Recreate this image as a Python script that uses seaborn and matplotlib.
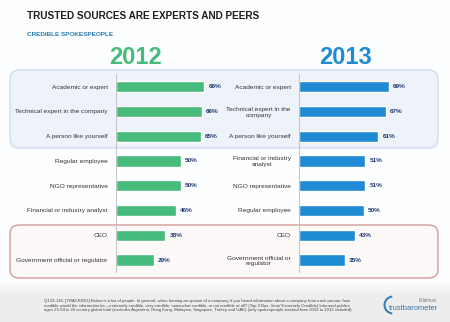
import numpy as np
import matplotlib
matplotlib.use("Agg")
import matplotlib.pyplot as plt
from matplotlib.patches import FancyBboxPatch, Arc
import seaborn as sns

# ---- data ----
cats_2012 = ["Academic or expert", "Technical expert in the company", "A person like yourself",
             "Regular employee", "NGO representative", "Financial or industry analyst",
             "CEO", "Government official or regulator"]
vals_2012 = [68, 66, 65, 50, 50, 46, 38, 29]
cats_2013 = ["Academic or expert", "Technical expert in the\ncompany", "A person like yourself",
             "Financial or industry\nanalyst", "NGO representative", "Regular employee",
             "CEO", "Government official or\nregulator"]
vals_2013 = [69, 67, 61, 51, 51, 50, 43, 35]

title = "TRUSTED SOURCES ARE EXPERTS AND PEERS"
subtitle = "CREDIBLE SPOKESPEOPLE"
year_left, year_right = "2012", "2013"
footnote = ("Q133-145. [TRACKING] Below is a list of people. In general, when forming an opinion of a company, if you heard information about a company from each person, how\n"
            "credible would the information be\u2014extremely credible, very credible, somewhat credible, or not credible at all? (Top 2 Box, Very/ Extremely Credible) Informed publics\n"
            "ages 25-64 in 20 country global total (excludes Argentina, Hong Kong, Malaysia, Singapore, Turkey and UAE) (only spokespeople tracked from 2012 to 2013 included)")

GREEN = "#46bb7b"
BLUE = "#1e8bd3"
NAVY = "#1f3a6e"

sns.set_style("white")
plt.rcParams['font.family'] = ['Liberation Sans', 'DejaVu Sans']

W, H = 450, 322
fig = plt.figure(figsize=(W / 100, H / 100), dpi=100)

def fx(x): return x / W
def fy(y): return 1 - y / H

# background with grey footer gradient
bg = fig.add_axes([0, 0, 1, 1], zorder=0)
grad = np.ones((H, 1))
for r in range(H):
    if r > 280:
        grad[r, 0] = 1 - min(1, (r - 280) / 15) * 0.065
bg.imshow(np.dstack([grad * 0.995, grad * 0.997, grad]), aspect='auto', extent=[0, W, H, 0])
bg.set_xlim(0, W); bg.set_ylim(H, 0)
bg.axis('off')

# highlight boxes (in inches)
def box(x0, y0, x1, y1, fc, ec):
    p = FancyBboxPatch((x0 / 100, (H - y1) / 100), (x1 - x0) / 100, (y1 - y0) / 100,
                       boxstyle="round,pad=0,rounding_size=0.09", transform=fig.dpi_scale_trans,
                       fc=fc, ec=ec, lw=0.8, zorder=1)
    fig.patches.append(p)

box(10, 70, 438, 148, "#eef3fa", "#c6d7ee")
box(10, 225, 438, 278, "#fdf9f9", "#c98282")

PXPER = 1.3
top_px, bot_px = 74.3, 272.4
axw = 105

def panel(left_px, cats, vals, color):
    ax = fig.add_axes([fx(left_px), fy(bot_px), axw / W, (bot_px - top_px) / H], zorder=2)
    ax.patch.set_alpha(0)
    sns.barplot(x=vals, y=cats, orient='h', color=color, width=0.45, saturation=1, ax=ax)
    ax.set_xlim(0, axw / PXPER)
    ax.set_ylim(len(cats) - 0.5, -0.5)
    ax.set_xlabel(""); ax.set_ylabel("")
    ax.set_xticks([])
    for s in ["top", "right", "bottom"]:
        ax.spines[s].set_visible(False)
    ax.spines["left"].set_color("#b8b8b8")
    ax.spines["left"].set_linewidth(0.6)
    ax.tick_params(axis='y', which='major', length=0, pad=6, labelsize=4.65, labelcolor="#333333")
    ax.set_yticks(np.arange(len(cats)) + 0.5, minor=True)
    ax.tick_params(axis='y', which='minor', length=2, width=0.5, color="#b8b8b8")
    for lab in ax.get_yticklabels():
        lab.set_multialignment('center')
    ax.bar_label(ax.containers[0], fmt='%d%%', padding=3, fontsize=4.6,
                 fontweight='bold', color=NAVY)
    return ax

panel(116, cats_2012, vals_2012, GREEN)
panel(299, cats_2013, vals_2013, BLUE)

# texts
fig.text(fx(27), fy(16), title, fontsize=7.2, fontweight='bold', color="#1e1e1e", va='center', ha='left')
fig.text(fx(27), fy(35), subtitle, fontsize=4.6, fontweight='bold', color="#2a7ab0", va='center', ha='left')
fig.text(fx(135), fy(57), year_left, fontsize=17, fontweight='bold', color=GREEN, va='center', ha='center')
fig.text(fx(346), fy(57), year_right, fontsize=17, fontweight='bold', color=BLUE, va='center', ha='center')
fig.text(fx(44), fy(305.5), footnote, fontsize=3.05, color="#444444", va='center', ha='left', linespacing=1.2)

# logo
fig.text(fx(437), fy(301), "Edelman", fontsize=3.3, color="#777777", ha='right', va='center')
fig.text(fx(438), fy(308), "trustbarometer", fontsize=5.4, color="#3a6f9f", ha='right', va='center')
arc = Arc((393 / 100, (H - 305) / 100), 0.17, 0.17, theta1=95, theta2=265,
          transform=fig.dpi_scale_trans, color="#2b7bb9", lw=1.4)
fig.patches.append(arc)

fig.savefig("out.png", dpi=100)
